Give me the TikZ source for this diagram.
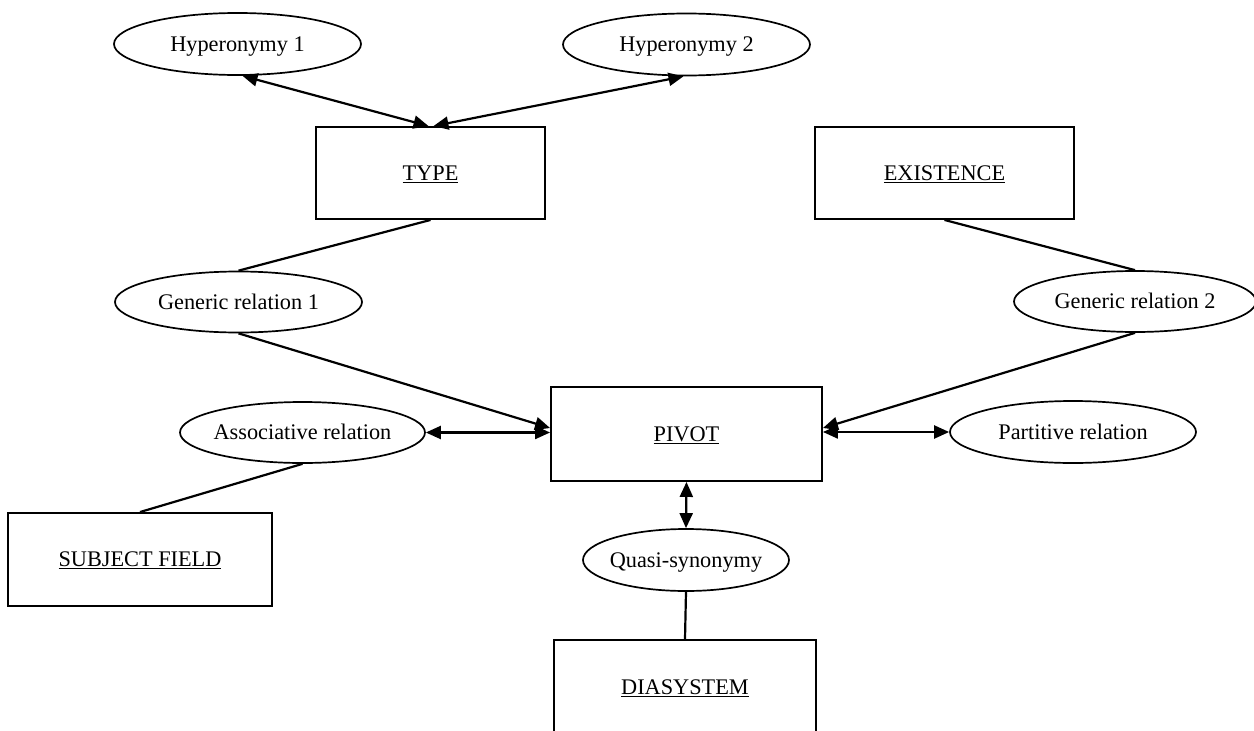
\documentclass[tikz,border=0pt]{standalone}
\usepackage{fontspec}
\setmainfont{Liberation Serif}
\usetikzlibrary{shapes.geometric,arrows.meta}
\tikzset{
  lbl/.style={font=\fontsize{22.3}{26}\selectfont, text height=14.8pt, text depth=0pt},
  ell/.style={draw, ellipse, line width=1.7pt, inner sep=0pt, inner xsep=-40pt, lbl},
  box/.style={draw, rectangle, line width=1.9pt, inner sep=0pt, lbl},
  conn/.style={line width=2.2pt},
  tip/.tip={Triangle[length=15pt,width=13pt]},
  arr/.style={conn, -tip},
  darr/.style={conn, tip-tip}
}
\begin{document}
\begin{tikzpicture}[x=1pt,y=-1pt]
\useasboundingbox (0,0) rectangle (1254,731);
\clip (0,0) rectangle (1254,731);
\fill[white] (0,0) rectangle (1254,731);
% boxes
\node[box, minimum width=229pt, minimum height=92pt] (type) at (430.5,173) {\underline{TYPE}};
\node[box, minimum width=259pt, minimum height=92pt] (exist) at (944.5,173) {\underline{EXISTENCE}};
\node[box, minimum width=271pt, minimum height=94pt] (pivot) at (686.5,434) {\underline{PIVOT}};
\node[box, minimum width=264pt, minimum height=93pt] (subj) at (140,559.5) {\underline{SUBJECT FIELD}};
\node[box, minimum width=262pt, minimum height=94pt] (dia) at (685,687) {\underline{DIASYSTEM}};
% ellipses
\node[ell, minimum width=247pt, minimum height=62pt] (hyp1) at (237.5,44) {Hyperonymy 1};
\node[ell, minimum width=247pt, minimum height=62pt] (hyp2) at (686.5,44.5) {Hyperonymy 2};
\node[ell, minimum width=247pt, minimum height=61pt] (gen1) at (238.5,302) {Generic relation 1};
\node[ell, minimum width=242pt, minimum height=61pt] (gen2) at (1135,301.5) {Generic relation 2};
\node[ell, minimum width=245pt, minimum height=61pt] (assoc) at (302.5,432.5) {Associative relation};
\node[ell, minimum width=246pt, minimum height=62pt] (part) at (1073,432) {Partitive relation};
\node[ell, minimum width=206pt, minimum height=62pt] (quasi) at (686,560) {Quasi-synonymy};
% connectors
\draw[darr] ([xshift=5pt]hyp1.south) -- ([xshift=-2pt]type.north);
\draw[darr] ([xshift=3pt]type.north) -- ([xshift=-3pt]hyp2.south);
\draw[conn] (type.south) -- (gen1.north);
\draw[arr] (gen1.south) -- ([yshift=6pt]pivot.west);
\draw[darr] (assoc.east) -- (assoc.east -| pivot.west);
\draw[conn] (assoc.south) -- (subj.north);
\draw[conn] (exist.south) -- (gen2.north);
\draw[arr] (gen2.south) -- ([yshift=6pt]pivot.east);
\draw[darr] (pivot.east |- part.west) -- (part.west);
\draw[darr] (pivot.south) -- (quasi.north);
\draw[conn] (quasi.south) -- (dia.north);
\end{tikzpicture}
\end{document}
